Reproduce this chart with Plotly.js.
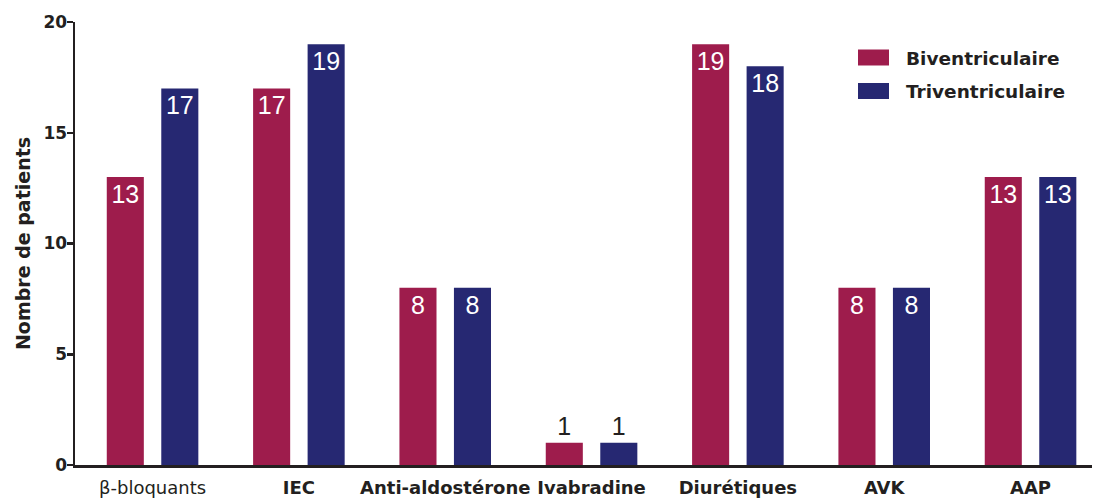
<!DOCTYPE html>
<html><head><meta charset="utf-8">
<script src="https://cdn.plot.ly/plotly-3.0.1.min.js"></script>
<style>html,body{margin:0;padding:0;background:#fff}#chart{width:1094px;height:502px}</style>
</head><body><div id="chart"></div>
<script>
const categories = ["β-bloquants","IEC","Anti-aldostérone","Ivabradine","Diurétiques","AVK","AAP"];
const tickLabels = ["β-bloquants","<b>IEC</b>","<b>Anti-aldostérone</b>","<b>Ivabradine</b>","<b>Diurétiques</b>","<b>AVK</b>","<b>AAP</b>"];
const biValues = [13,17,8,1,19,8,13];
const triValues = [17,19,8,1,18,8,13];
const seriesNames = ["Biventriculaire","Triventriculaire"];
const seriesColors = ["#9e1c4c","#262872"];
const yTicks = [0,5,10,15,20];

const FONT = "DejaVu Sans, sans-serif";
const NUMFONT = "Liberation Sans, Arial, sans-serif";
const INK = "#231f20";
const xIdx = categories.map((c,i)=>i);
function mk(name, vals, color){
  return {type:"bar", name:name, x:xIdx, y:vals, marker:{color:color, line:{width:0}},
    text:vals.map(String), textposition:vals.map(v=>v<3?"outside":"inside"),
    insidetextanchor:"end", textangle:0,
    insidetextfont:{family:NUMFONT, size:25, color:"#ffffff"},
    outsidetextfont:{family:NUMFONT, size:25, color:INK},
    constraintext:"none", cliponaxis:false, hoverinfo:"none", showlegend:false};
}
const data = [mk(seriesNames[0], biValues, seriesColors[0]), mk(seriesNames[1], triValues, seriesColors[1])];

// custom legend (paper coordinates)
const legRows = [57.5, 91];
const shapes = [], annotations = [];
const H = 502, mt = 22, mb = 37, W = 1094, ml = 75, mr = 2;
const ph = H - mt - mb, pw = W - ml - mr;
const py = y => 1 - (y - mt) / ph;
const px = x => (x - ml) / pw;
seriesNames.forEach((n,i)=>{
  shapes.push({type:"rect", xref:"paper", yref:"paper", x0:px(858), x1:px(889),
    y0:py(legRows[i]+8), y1:py(legRows[i]-8), fillcolor:seriesColors[i], line:{width:0}});
  annotations.push({xref:"paper", yref:"paper", x:px(904), y:py(legRows[i]+1), xanchor:"left", yanchor:"middle",
    text:"<b>"+n+"</b>", showarrow:false, font:{family:FONT, size:18.5, color:INK}});
});

const layout = {
  width:W, height:H,
  margin:{l:ml, r:mr, t:mt, b:mb},
  paper_bgcolor:"#fff", plot_bgcolor:"#fff",
  barmode:"group", bargap:0.255, bargroupgap:0.32,
  showlegend:false, shapes:shapes, annotations:annotations,
  xaxis:{type:"linear", range:[-0.53,6.42], tickvals:xIdx, ticktext:tickLabels,
    showgrid:false, zeroline:false, showline:true, linecolor:INK, linewidth:2.5,
    ticks:"", tickfont:{family:FONT, size:18, color:INK},
    ticklabelstandoff:5},
  yaxis:{range:[0,20], tickvals:yTicks, showgrid:false, zeroline:false, showline:true,
    linecolor:INK, linewidth:2.5, ticks:"outside", ticklen:6, tickwidth:2.5, tickcolor:INK,
    tickfont:{family:FONT, size:17, color:INK, weight:"bold"}, ticklabelstandoff:-4,
    title:{text:"<b>Nombre de patients</b>", font:{family:FONT, size:19, color:INK}, standoff:8}}
};
Plotly.newPlot("chart", data, layout, {displayModeBar:false, staticPlot:true});
</script></body></html>
